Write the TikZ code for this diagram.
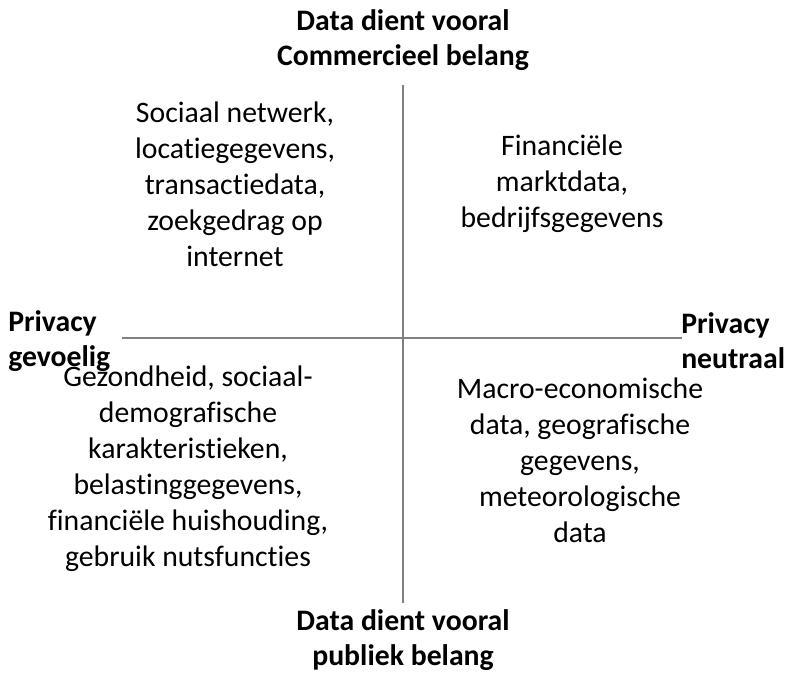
\documentclass[tikz,border=0pt]{standalone}
\usepackage{fontspec}
\setmainfont{Carlito}[Ligatures=NoCommon]
\usepackage{tikz}
\usepackage{xcolor}

\definecolor{axisgray}{RGB}{128,128,128}

\tikzset{
  quadtext/.style={align=center,inner sep=0pt,font=\fontsize{22.3}{27}\selectfont},
  axislabel/.style={align=center,inner sep=0pt,font=\fontsize{22.3}{26.5}\selectfont\bfseries},
  sidelabel/.style={align=left,inner sep=0pt,anchor=west,font=\fontsize{22.3}{26.5}\selectfont\bfseries},
  axisline/.style={draw=axisgray,line width=0.9pt}
}

\begin{document}
\begin{tikzpicture}[x=0.75pt,y=-0.75pt]
        \useasboundingbox (0,0) rectangle (793,678);
        % Axes
        \coordinate (top) at (403,85);
        \coordinate (bottom) at (403,603);
        \coordinate (left) at (122,338);
        \coordinate (right) at (682,338);
        \draw[axisline] (top) -- (bottom);
        \draw[axisline] (left) -- (right);
        % Axis labels
        \node[axislabel] (commercieel) at (403,40) {Data dient vooral\\Commercieel belang};
        \node[axislabel] (publiek) at (403,640) {Data dient vooral\\publiek belang};
        \node[sidelabel] (gevoelig) at (8,341) {Privacy\\gevoelig};
        \node[sidelabel] (neutraal) at (681,341) {Privacy\\neutraal};
        % Quadrants
        \node[quadtext] (linksboven) at (235,184) {Sociaal netwerk,\\locatiegegevens,\\transactiedata,\\zoekgedrag op\\internet};
        \node[quadtext] (rechtsboven) at (562,184) {Financiële\\marktdata,\\bedrijfsgegevens};
        \node[quadtext] (linksonder) at (188,469) {Gezondheid, sociaal-\\demografische\\karakteristieken,\\belastinggegevens,\\financiële huishouding,\\gebruik nutsfuncties};
        \node[quadtext] (rechtsonder) at (580,460) {Macro-economische\\data, geografische\\gegevens,\\meteorologische\\data};
    \end{tikzpicture}
\end{document}
